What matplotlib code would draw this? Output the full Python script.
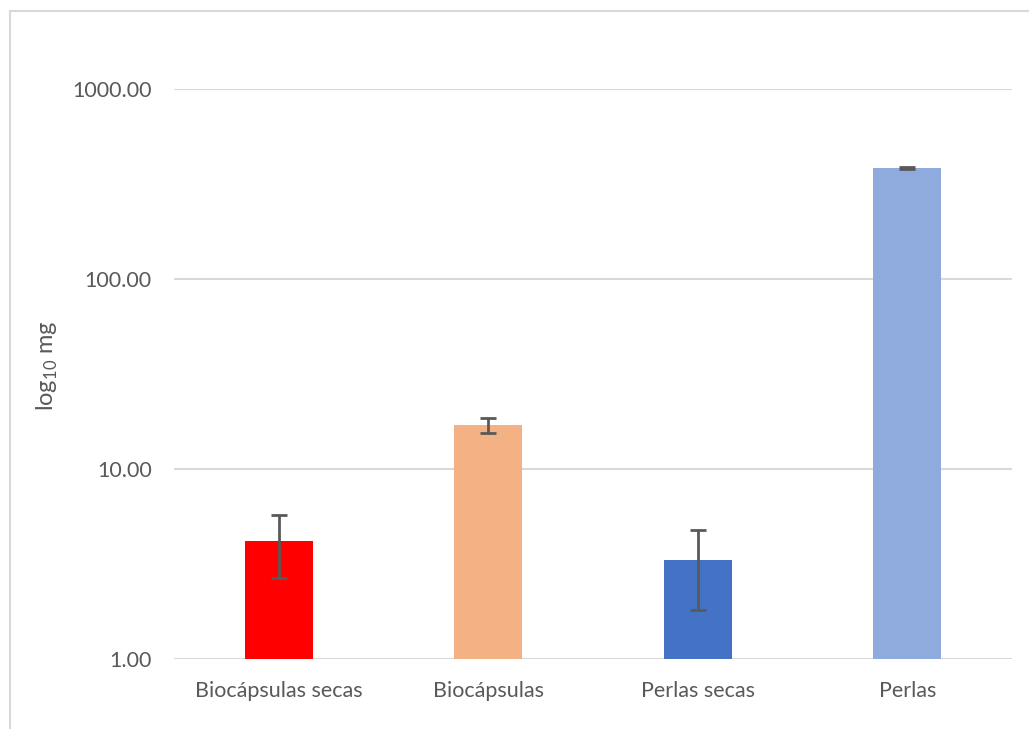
import matplotlib
matplotlib.use("Agg")
import matplotlib.pyplot as plt
from matplotlib.lines import Line2D

# Data
categories = ["Biocápsulas secas", "Biocápsulas", "Perlas secas", "Perlas"]
means = [4.2, 17.0, 3.3, 384.0]
errors = [1.52, 1.55, 1.5, 2.5]
colors = ["#FF0000", "#F4B183", "#4472C4", "#8FAADC"]
ytick_values = [1, 10, 100, 1000]
ytick_labels = ["1.00", "10.00", "100.00", "1000.00"]

plt.rcParams["font.family"] = ["Lato", "DejaVu Sans"]
text_color = "#595959"
grid_color = "#D9D9D9"

W, H = 1029, 729
fig = plt.figure(figsize=(W / 100, H / 100), dpi=100)

# Chart-area frame (left and top edges visible)
fig.add_artist(Line2D([10 / W, 10 / W], [0, 1 - 11 / H], transform=fig.transFigure,
                      color=grid_color, lw=1.5))
fig.add_artist(Line2D([10 / W, 1], [1 - 11 / H, 1 - 11 / H], transform=fig.transFigure,
                      color=grid_color, lw=1.5))

left, right = 174 / W, 1012 / W
bottom, top = (H - 659) / H, (H - 89) / H
ax = fig.add_axes([left, bottom, right - left, top - bottom])

x = list(range(len(categories)))
ax.bar(x, means, width=0.325, color=colors, zorder=3)
ax.errorbar(x, means, yerr=errors, fmt="none", ecolor="#595959",
            elinewidth=2, capsize=6, capthick=2, zorder=4)

ax.set_yscale("log")
ax.set_ylim(1, 1000)
ax.set_xlim(-0.5, len(categories) - 0.5)
ax.set_yticks(ytick_values)
ax.set_yticklabels(ytick_labels)
ax.yaxis.set_minor_locator(matplotlib.ticker.NullLocator())
ax.set_xticks(x)
ax.set_xticklabels(categories)

ax.grid(axis="y", color=grid_color, lw=1.5, zorder=0)
for s in ax.spines.values():
    s.set_visible(False)
ax.tick_params(axis="both", length=0, colors=text_color)
ax.tick_params(axis="y", labelsize=15.5, pad=16)
ax.tick_params(axis="x", labelsize=15.5, pad=16)

ax.set_ylabel(r"log$_{\mathregular{10}}$ mg", color=text_color, fontsize=17)
ax.yaxis.set_label_coords(-0.136, 0.514)

fig.savefig("out.png", dpi=100)
